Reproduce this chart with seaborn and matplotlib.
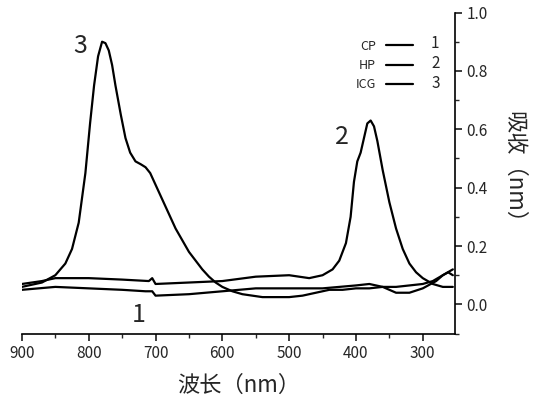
import matplotlib
matplotlib.use("Agg")
import matplotlib.pyplot as plt
import numpy as np
import pandas as pd
import seaborn as sns
from matplotlib.ticker import MultipleLocator

sns.set_theme(style="white")
plt.rcParams["font.family"] = ["Noto Sans CJK SC", "DejaVu Sans"]

# 曲线数据
wl_cp = [900, 850, 800, 750, 715, 705, 700, 650, 600, 550, 500, 450, 400, 380, 360, 340, 320, 300, 280, 270, 255]
ab_cp = [0.05, 0.06, 0.055, 0.05, 0.045, 0.045, 0.03, 0.035, 0.045, 0.055, 0.055, 0.055, 0.065, 0.07, 0.06, 0.04, 0.04, 0.055, 0.08, 0.10, 0.12]

wl_hp = [900, 870, 850, 800, 750, 710, 705, 700, 650, 600, 550, 500, 470, 450, 435, 425, 415, 408, 403, 398, 393, 388, 383, 378, 373, 368, 360, 350, 340, 330, 320, 310, 300, 285, 270, 255]
ab_hp = [0.07, 0.08, 0.09, 0.09, 0.085, 0.08, 0.09, 0.07, 0.075, 0.08, 0.095, 0.10, 0.09, 0.10, 0.12, 0.15, 0.21, 0.30, 0.42, 0.49, 0.52, 0.57, 0.62, 0.63, 0.61, 0.56, 0.46, 0.35, 0.26, 0.19, 0.14, 0.11, 0.09, 0.07, 0.06, 0.06]

wl_icg = [900, 870, 850, 835, 825, 815, 805, 798, 792, 786, 780, 775, 770, 765, 760, 752, 745, 738, 730, 722, 715, 708, 700, 690, 680, 670, 660, 650, 640, 630, 620, 610, 600, 585, 570, 555, 540, 520, 500, 480, 460, 440, 420, 400, 380, 360, 340, 320, 300, 285, 270, 262, 255]
ab_icg = [0.06, 0.075, 0.10, 0.14, 0.19, 0.28, 0.45, 0.62, 0.75, 0.85, 0.90, 0.895, 0.87, 0.82, 0.75, 0.65, 0.57, 0.52, 0.49, 0.48, 0.47, 0.45, 0.41, 0.36, 0.31, 0.26, 0.22, 0.18, 0.15, 0.12, 0.095, 0.075, 0.06, 0.045, 0.035, 0.03, 0.025, 0.025, 0.025, 0.03, 0.04, 0.05, 0.05, 0.055, 0.055, 0.06, 0.06, 0.065, 0.07, 0.08, 0.10, 0.11, 0.10]

names = ["CP", "HP", "ICG"]
numbers = ["1", "2", "3"]

df = pd.concat([
    pd.DataFrame({"wl": wl_cp, "ab": ab_cp, "s": "CP"}),
    pd.DataFrame({"wl": wl_hp, "ab": ab_hp, "s": "HP"}),
    pd.DataFrame({"wl": wl_icg, "ab": ab_icg, "s": "ICG"}),
])

fig, ax = plt.subplots(figsize=(5.48, 4.17), dpi=100)
sns.lineplot(data=df, x="wl", y="ab", hue="s", hue_order=names,
             palette=["black"] * 3, linewidth=1.6, ax=ax, sort=False)

ax.set_xlim(900, 252)
ax.set_ylim(-0.1, 1.0)
ax.xaxis.set_major_locator(MultipleLocator(100))
ax.xaxis.set_minor_locator(MultipleLocator(50))
ax.yaxis.set_major_locator(MultipleLocator(0.2))
ax.yaxis.set_minor_locator(MultipleLocator(0.1))
ax.yaxis.tick_right()
ax.yaxis.set_label_position("right")
ax.tick_params(axis="x", which="both", direction="out", bottom=True, length=5, labelsize=11)
ax.tick_params(axis="x", which="minor", length=3)
ax.tick_params(axis="y", which="both", direction="out", right=True, left=False, length=5, labelsize=11)
ax.tick_params(axis="y", which="minor", length=3)
ax.yaxis.set_major_formatter(matplotlib.ticker.FormatStrFormatter("%.1f"))
for side in ["top", "left"]:
    ax.spines[side].set_visible(False)
for side in ["bottom", "right"]:
    ax.spines[side].set_color("black")
    ax.spines[side].set_linewidth(1.2)

ax.set_xlabel("波长（nm）", fontsize=16, labelpad=8)
ax.set_ylabel("吸收（nm）", fontsize=16, labelpad=10, rotation=270, va="bottom")

ax.text(803, 0.86, "3", fontsize=18, ha="right")
ax.text(410, 0.55, "2", fontsize=18, ha="right")
ax.text(715, -0.06, "1", fontsize=18, ha="right")

leg = ax.legend(title=None, loc="upper right", bbox_to_anchor=(0.93, 0.95),
                frameon=False, markerfirst=False, fontsize=9, handlelength=2.2,
                labelspacing=0.5)
for i, n in enumerate(numbers):
    ax.text(0.955, 0.905 - i * 0.063, n, transform=ax.transAxes, fontsize=11,
            va="center", ha="center")

fig.subplots_adjust(left=0.04, right=0.83, top=0.97, bottom=0.2)
fig.savefig("out.png", dpi=100)
